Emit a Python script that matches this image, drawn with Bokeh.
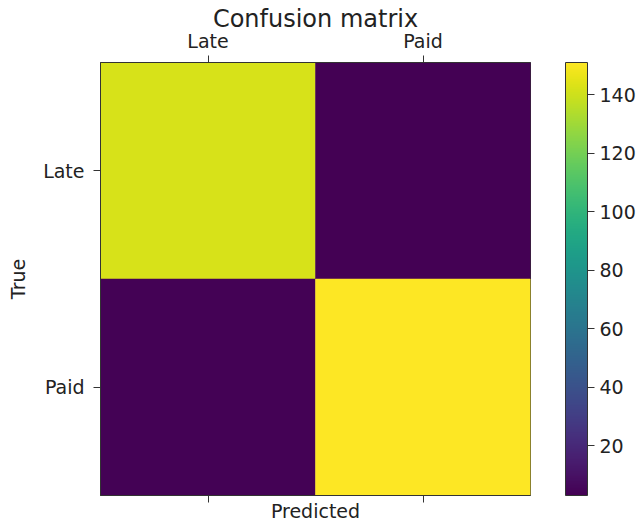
from bokeh.plotting import figure
from bokeh.models import (ColumnDataSource, LinearColorMapper, ColorBar, FixedTicker,
                          Range1d, LinearAxis)
from bokeh.transform import transform
from bokeh.palettes import Viridis256
from bokeh.embed import file_html
from bokeh.resources import INLINE

classes = ["Late", "Paid"]
row_late = [142, 3]
row_paid = [4, 151]
colorbar_ticks = [20, 40, 60, 80, 100, 120, 140]

FONT = "DejaVu Sans"
TXT = "#222222"
FS = "19px"

xs, ys, vals = [], [], []
for i, row in enumerate([row_late, row_paid]):
    for j, v in enumerate(row):
        xs.append(j)
        ys.append(i)
        vals.append(v)
src = ColumnDataSource(dict(x=xs, y=ys, v=vals))

mapper = LinearColorMapper(palette=Viridis256, low=min(vals), high=max(vals))

p = figure(x_range=Range1d(-0.5, 1.5), y_range=Range1d(1.5, -0.5),
           frame_width=430, frame_height=433,
           output_backend="svg", toolbar_location=None,
           x_axis_location="above",
           min_border_left=100, min_border_top=62, min_border_right=106,
           min_border_bottom=2)
p.rect(x="x", y="y", width=1, height=1, source=src,
       fill_color=transform("v", mapper), line_color=transform("v", mapper),
       line_width=0.5)

p.grid.visible = False
p.outline_line_color = "#333333"
p.outline_line_width = 1
p.background_fill_color = "white"

tick_map = {i: c for i, c in enumerate(classes)}

for ax in [p.xaxis[0], p.yaxis[0]]:
    ax.ticker = FixedTicker(ticks=list(range(len(classes))))
    ax.major_label_overrides = tick_map
    ax.major_label_text_font = FONT
    ax.major_label_text_font_size = FS
    ax.major_label_text_color = TXT
    ax.minor_tick_line_color = None
    ax.major_tick_in = 0
    ax.major_tick_out = 7
    ax.major_tick_line_color = "#333333"
    ax.axis_line_color = "#333333"
    ax.axis_label_text_font = FONT
    ax.axis_label_text_font_size = FS
    ax.axis_label_text_font_style = "normal"
    ax.axis_label_text_color = TXT

# title drawn as the top axis label so it can sit close to the tick labels
top = p.xaxis[0]
top.major_label_standoff = 4
top.axis_label = "Confusion matrix"
top.axis_label_text_font_size = "24px"
top.axis_label_standoff = -6

p.yaxis[0].major_label_standoff = 9
p.yaxis[0].axis_label = "True"
p.yaxis[0].axis_label_standoff = 11

bottom = LinearAxis(ticker=FixedTicker(ticks=list(range(len(classes)))),
                    major_label_overrides={i: "" for i in range(len(classes))},
                    axis_label="Predicted")
bottom.major_label_text_font_size = "1px"
bottom.major_tick_in = 0
bottom.major_tick_out = 7
bottom.minor_tick_line_color = None
bottom.major_tick_line_color = "#333333"
bottom.axis_line_color = "#333333"
bottom.axis_label_text_font = FONT
bottom.axis_label_text_font_size = FS
bottom.axis_label_text_font_style = "normal"
bottom.axis_label_text_color = TXT
bottom.axis_label_standoff = -3
bottom.major_label_standoff = 0
p.add_layout(bottom, "below")

cb = ColorBar(color_mapper=mapper, ticker=FixedTicker(ticks=colorbar_ticks),
              width=22, height=433, padding=0, margin=0, location=(35, 0),
              bar_line_color="#333333", bar_line_width=1,
              major_tick_in=0, major_tick_out=7,
              major_tick_line_color="#333333",
              major_label_text_font=FONT, major_label_text_font_size=FS,
              major_label_text_color=TXT, label_standoff=5,
              background_fill_color=None, border_line_color=None)
p.add_layout(cb, "right")

open("out.html", "w").write(file_html(p, INLINE))
